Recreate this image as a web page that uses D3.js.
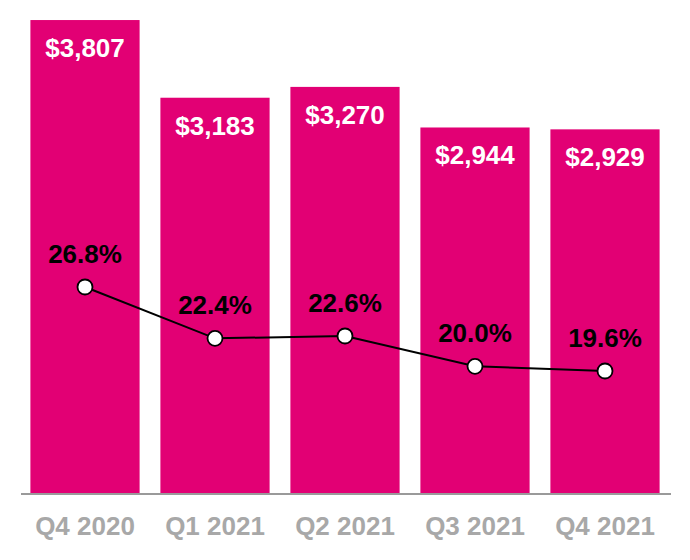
<!DOCTYPE html>
<html>
<head>
<meta charset="utf-8">
<script src="https://cdn.jsdelivr.net/npm/d3@7"></script>
<style>
    body { margin: 0; background: #fff; }
    svg { display: block; font-family: "Liberation Sans", Arial, sans-serif; font-weight: bold; }
</style>
</head>
<body>
<div id="container"></div>
<script>
// Chart data
const quarters = ["Q4 2020", "Q1 2021", "Q2 2021", "Q3 2021", "Q4 2021"];
const revenue = [3807, 3183, 3270, 2944, 2929];
const margin = [26.8, 22.4, 22.6, 20.0, 19.6];

const width = 690;
const height = 560;
const baseline = 494;

const svg = d3.select("#container").append("svg")
    .attr("width", width)
    .attr("height", height);

// Scales
const x = d3.scaleBand()
    .domain(quarters)
    .range([20, 670])
    .paddingInner(0.16)
    .paddingOuter(0.08);

const y = d3.scaleLinear()
    .domain([0, 3968])
    .range([baseline, 0]);

const yPct = d3.scaleLinear()
    .domain([19.6, 26.8])
    .range([371, 287]);

const rows = quarters.map((q, i) => ({ q, rev: revenue[i], pct: margin[i] }));

// Bars
svg.append("g")
    .selectAll("rect")
    .data(rows)
    .join("rect")
    .attr("x", d => x(d.q))
    .attr("y", d => y(d.rev))
    .attr("width", x.bandwidth())
    .attr("height", d => baseline - y(d.rev))
    .attr("fill", "#E20074");

// Revenue labels inside bars
svg.append("g")
    .selectAll("text")
    .data(rows)
    .join("text")
    .attr("x", d => x(d.q) + x.bandwidth() / 2)
    .attr("y", d => y(d.rev) + 37)
    .attr("text-anchor", "middle")
    .attr("fill", "#fff")
    .attr("font-size", 26)
    .text(d => "$" + d3.format(",")(d.rev));

// Baseline axis
const xAxis = svg.append("g")
    .attr("transform", `translate(0,${baseline})`)
    .call(d3.axisBottom(x).tickSize(0).tickPadding(0).tickSizeOuter(0));

xAxis.select(".domain")
    .attr("d", "M1,0H651")
    .attr("transform", "translate(20,0)")
    .attr("stroke", "#9a9a9a")
    .attr("stroke-width", 2);

xAxis.selectAll(".tick text")
    .attr("y", 41)
    .attr("dy", 0)
    .attr("fill", "#a8a8a8")
    .attr("font-size", 26)
    .attr("font-family", "Liberation Sans, Arial, sans-serif")
    .attr("font-weight", "bold");

// Margin line
const line = d3.line()
    .x(d => x(d.q) + x.bandwidth() / 2)
    .y(d => yPct(d.pct));

svg.append("path")
    .datum(rows)
    .attr("fill", "none")
    .attr("stroke", "#000")
    .attr("stroke-width", 2)
    .attr("d", line);

svg.append("g")
    .selectAll("circle")
    .data(rows)
    .join("circle")
    .attr("cx", d => x(d.q) + x.bandwidth() / 2)
    .attr("cy", d => yPct(d.pct))
    .attr("r", 7.5)
    .attr("fill", "#fff")
    .attr("stroke", "#000")
    .attr("stroke-width", 1.8);

// Margin labels
svg.append("g")
    .selectAll("text")
    .data(rows)
    .join("text")
    .attr("x", d => x(d.q) + x.bandwidth() / 2)
    .attr("y", d => yPct(d.pct) - 24)
    .attr("text-anchor", "middle")
    .attr("fill", "#000")
    .attr("font-size", 26)
    .text(d => d.pct.toFixed(1) + "%");
</script>
</body>
</html>
